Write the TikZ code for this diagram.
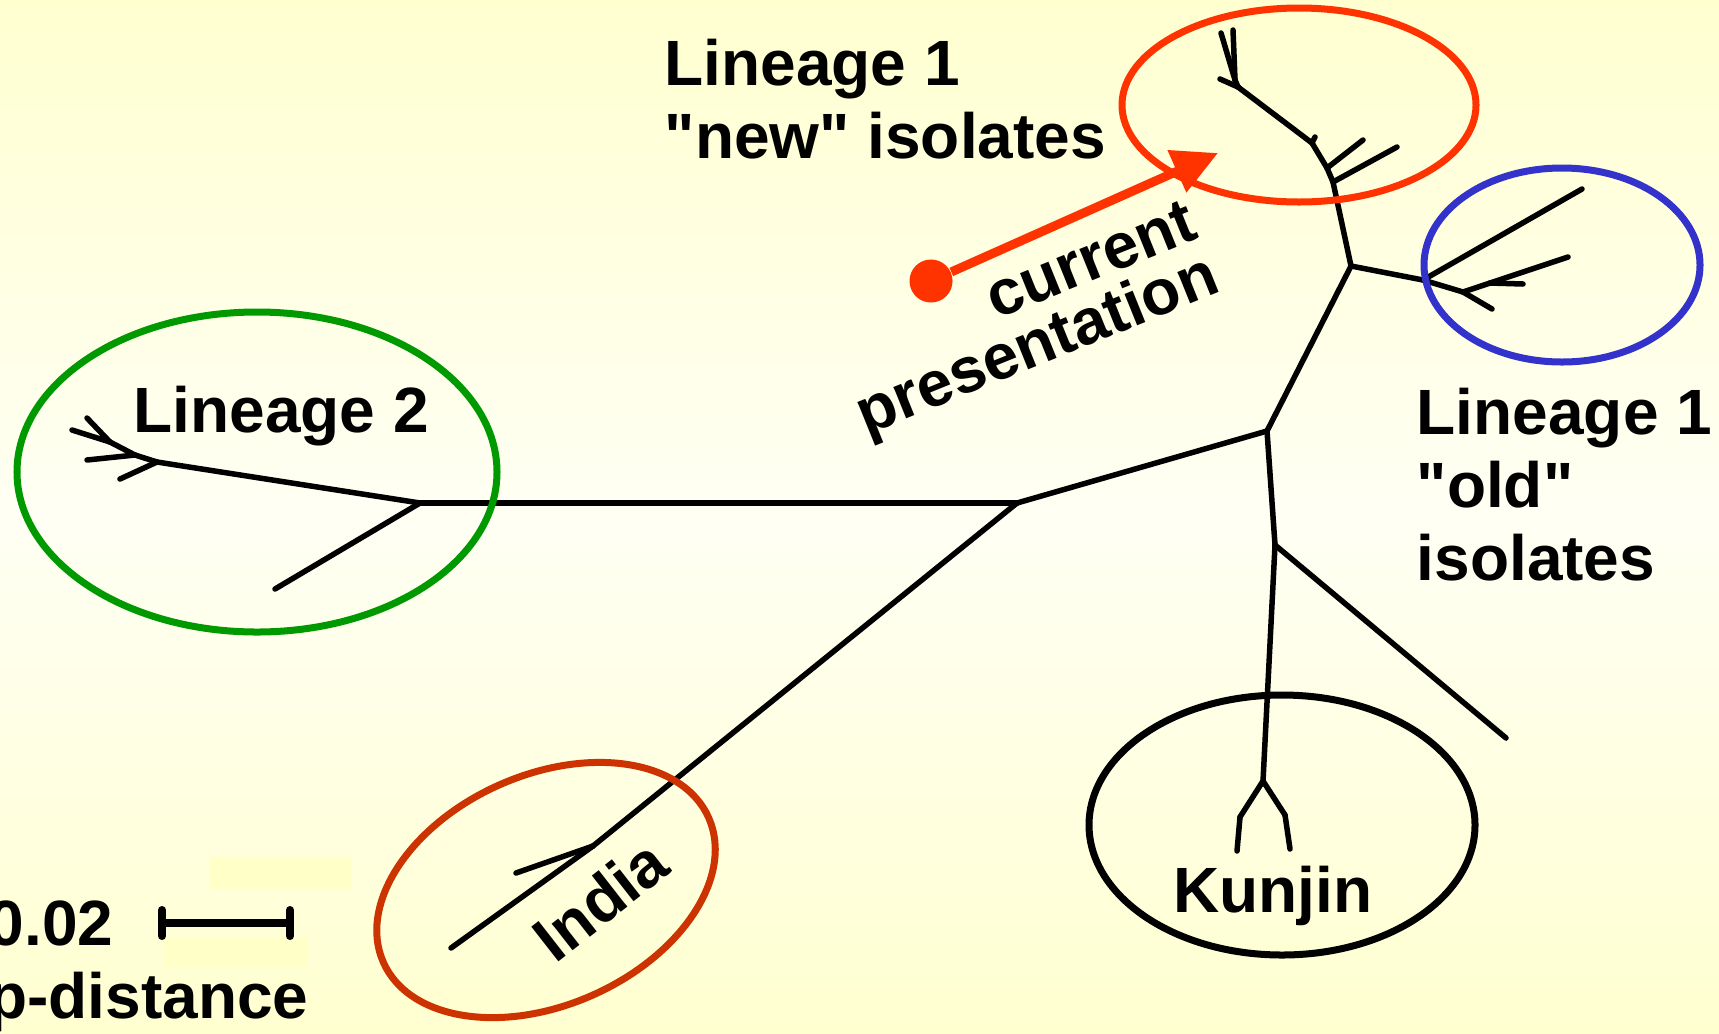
\documentclass[tikz,border=0pt]{standalone}
\usepackage{fontspec}
\setmainfont{Liberation Sans}[Ligatures=TeXOff]
\usetikzlibrary{arrows.meta}

\definecolor{bgyellow}{HTML}{FFFFD0}
\definecolor{bgwhite}{HTML}{FFFFF4}
\definecolor{bgpatch}{HTML}{FFFFC8}
\definecolor{newred}{HTML}{FF3300}
\definecolor{indiared}{HTML}{CC3300}
\definecolor{oldblue}{HTML}{3333CC}
\definecolor{lingreen}{HTML}{009900}

\tikzset{
	branch/.style={line width=0.055cm, line cap=round, line join=round},
	clade/.style={line width=0.07cm},
	label/.style={font=\fontsize{18.2}{20.8}\selectfont\bfseries, inner sep=0pt},
	pointer/.style={newred, line width=0.09cm, -{Triangle[length=4.5mm, width=4.4mm]}},
	scalebar/.style={line width=0.08cm, {Bar[width=2.6mm, line cap=round]}-{Bar[width=2.6mm, line cap=round]}},
}

\begin{document}
\begin{tikzpicture}[x=0.01cm, y=-0.01cm]
	% background, 1 unit = 1px
	\shade[top color=bgyellow, bottom color=bgyellow, middle color=bgwhite] (0,0) rectangle (1719,1033);
	\useasboundingbox (0,0) rectangle (1719,1033);
	\fill[bgpatch] (210,857) rectangle (352,889);
	\fill[bgpatch] (163,938) rectangle (307,968);
	
	% joints and leaves of the tree
	\coordinate (root) at (1017,503);
	% lineage 2
	\coordinate (l2) at (420,503);
	\coordinate (l2a) at (157,462);
	\coordinate (l2b) at (135,455);
	\coordinate (l2c) at (110,442);
	\coordinate (l2l1) at (275,589);
	\coordinate (l2l2) at (120,479);
	\coordinate (l2l3) at (87,460);
	\coordinate (l2l4) at (72,430);
	\coordinate (l2l5) at (87,418);
	% lineage 1, new
	\coordinate (mid) at (1267,431);
	\coordinate (top) at (1351,266);
	\coordinate (n1) at (1333,182);
	\coordinate (n2) at (1327,168);
	\coordinate (n3) at (1312,143);
	\coordinate (n4) at (1238,87);
	\coordinate (n5) at (1235,80);
	\coordinate (nl1) at (1397,147);
	\coordinate (nl2) at (1363,140);
	\coordinate (nl3) at (1315,137);
	\coordinate (nl4) at (1220,79);
	\coordinate (nl5) at (1221,33);
	\coordinate (nl6) at (1233,30);
	% lineage 1, old
	\coordinate (o1) at (1423,280);
	\coordinate (o2) at (1463,292);
	\coordinate (o3) at (1490,283);
	\coordinate (ol1) at (1582,189);
	\coordinate (ol2) at (1492,309);
	\coordinate (ol3) at (1568,257);
	\coordinate (ol4) at (1523,284);
	% kunjin
	\coordinate (low) at (1275,545);
	\coordinate (ll1) at (1506,738);
	\coordinate (k) at (1263,781);
	\coordinate (k1) at (1240,817);
	\coordinate (k2) at (1285,815);
	\coordinate (kl1) at (1237,851);
	\coordinate (kl2) at (1290,849);
	% india
	\coordinate (ind) at (593,846);
	\coordinate (il1) at (451,948);
	\coordinate (il2) at (516,873);
	
	\foreach \a/\b in {root/l2, l2/l2a, l2/l2l1, l2a/l2l2, l2a/l2b, l2b/l2l3, l2b/l2c, l2c/l2l4, l2c/l2l5,
		root/mid, mid/top, top/n1, n1/n2, n2/n3, n3/n4, n4/n5, n1/nl1, n2/nl2, n3/nl3, n4/nl4, n5/nl5, n5/nl6,
		top/o1, o1/ol1, o1/o2, o2/ol2, o2/o3, o3/ol3, o3/ol4,
		mid/low, low/ll1, low/k, k/k1, k/k2, k1/kl1, k2/kl2,
		root/ind, ind/il1, ind/il2}
		\draw[branch] (\a) -- (\b);
	
	% groups
	\draw[clade, lingreen] (257,472) ellipse [x radius=240, y radius=160];
	\draw[clade, newred] (1299,105) ellipse [x radius=177, y radius=97];
	\draw[clade, oldblue] (1562,265) ellipse [x radius=138, y radius=97];
	\draw[clade, black] (1282,825) ellipse [x radius=193, y radius=130];
	\draw[clade, indiared, rotate around={24:(546,890)}] (546,890) ellipse [x radius=178, y radius=115];
	
	% labels
	\node[label, anchor=base west] (lin2) at (133,432) {Lineage 2};
	\node[label, anchor=north west, align=left] (linnew) at (664,38) {Lineage 1\\"new" isolates};
	\node[label, anchor=north west, align=left] (linold) at (1416,387) {Lineage 1\\"old"\\isolates};
	\node[label, rotate=38] (indlbl) at (600,900) {India};
	\node[label, anchor=base] (kunlbl) at (1273,912) {Kunjin};
	\node[label, font=\fontsize{18.2}{16.5}\selectfont\bfseries, rotate=22, align=right] (curlbl) at (1028,323) {current\\presentation};
	
	% current presentation arrow
	\node[circle, fill=newred, minimum size=0.43cm, inner sep=0pt] (dot) at (931,281) {};
	\coordinate (tip) at (1218,153);
	\draw[pointer] (dot) -- (tip);
	
	% scale
	\coordinate (sb0) at (158,923);
	\coordinate (sb1) at (294,923);
	\draw[scalebar] (sb0) -- (sb1);
	\node[label, anchor=base east] (dist) at (114,945) {0.02};
	\node[label, anchor=base east] (pdist) at (309,1018) {p-distance};
\end{tikzpicture}
\end{document}
